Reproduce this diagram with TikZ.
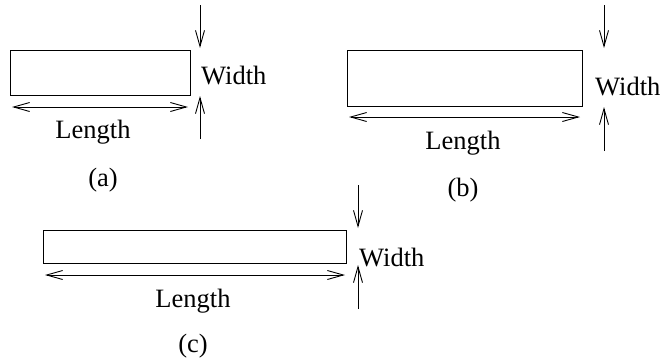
\documentclass[tikz,border=0pt]{standalone}
\usepackage{fontspec}
\setmainfont{Liberation Serif}
\usetikzlibrary{arrows.meta}
\tikzset{
  barbtip/.style={Straight Barb[length=16pt,width=9pt,line width=0.9pt]},
  dim/.style={line width=0.9pt, -{Straight Barb[length=16pt,width=9pt,line width=0.9pt]}},
  dimboth/.style={line width=0.9pt, {Straight Barb[length=16pt,width=9pt,line width=0.9pt]}-{Straight Barb[length=16pt,width=9pt,line width=0.9pt]}},
  slab/.style={draw, line width=0.9pt, inner sep=0pt, anchor=north west},
  lab/.style={inner sep=0pt, font=\fontsize{26.5}{30}\selectfont}
}
\begin{document}
\begin{tikzpicture}[x=1pt,y=-1pt]
\useasboundingbox (0,0) rectangle (661,360);
% (a)
\node[slab, minimum width=180pt, minimum height=45pt] (ra) at (10,50) {};
\coordinate (aL1) at (12,107); \coordinate (aL2) at (188,107);
\draw[dimboth] (aL1) -- (aL2);
\node[lab] (la) at (93,132) {Length};
\coordinate (aT) at (200,5); \coordinate (aTt) at (200,48);
\coordinate (aB) at (200,139); \coordinate (aBt) at (200,96);
\draw[dim] (aT) -- (aTt);
\draw[dim] (aB) -- (aBt);
\node[lab, anchor=west] (wa) at (201,76) {Width};
\node[lab] (ca) at (103,180) {(a)};
% (b)
\node[slab, minimum width=235pt, minimum height=56pt] (rb) at (347,50) {};
\coordinate (bL1) at (349,117); \coordinate (bL2) at (580,117);
\draw[dimboth] (bL1) -- (bL2);
\node[lab] (lb) at (463,143) {Length};
\coordinate (bT) at (604,5); \coordinate (bTt) at (604,48);
\coordinate (bB) at (604,151); \coordinate (bBt) at (604,107);
\draw[dim] (bT) -- (bTt);
\draw[dim] (bB) -- (bBt);
\node[lab, anchor=west] (wb) at (595,87) {Width};
\node[lab] (cb) at (463,190) {(b)};
% (c)
\node[slab, minimum width=303pt, minimum height=33pt] (rc) at (43,230) {};
\coordinate (cL1) at (45,275); \coordinate (cL2) at (345,275);
\draw[dimboth] (cL1) -- (cL2);
\node[lab] (lc) at (193,301) {Length};
\coordinate (cT) at (358,185); \coordinate (cTt) at (358,228);
\coordinate (cB) at (358,309); \coordinate (cBt) at (358,265);
\draw[dim] (cT) -- (cTt);
\draw[dim] (cB) -- (cBt);
\node[lab, anchor=west] (wc) at (359,257) {Width};
\node[lab] (cc) at (193,346) {(c)};
\end{tikzpicture}
\end{document}
